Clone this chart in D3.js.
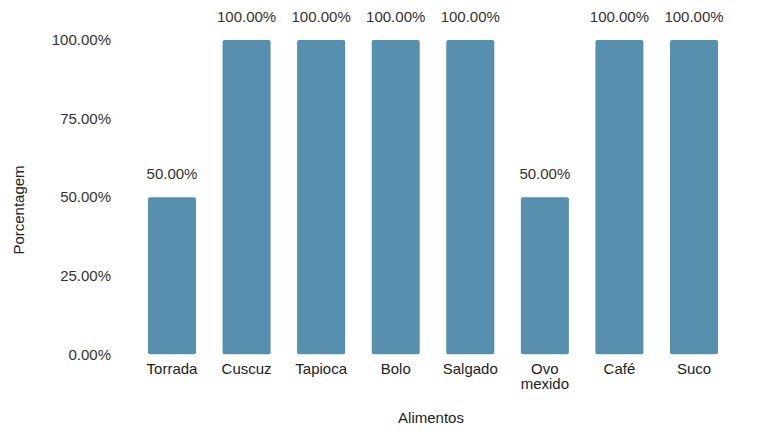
<!DOCTYPE html>
<html>
<head>
<meta charset="utf-8">
<script src="https://cdn.jsdelivr.net/npm/d3@7"></script>
<style>
  html, body { margin: 0; padding: 0; background: #fff; }
  svg { display: block; font-family: "Liberation Sans", Arial, sans-serif; }
</style>
</head>
<body>
<svg id="chart" width="758" height="443"></svg>
<script>
const categories = ["Torrada", "Cuscuz", "Tapioca", "Bolo", "Salgado", "Ovo mexido", "Café", "Suco"];
const values = [50, 100, 100, 100, 100, 50, 100, 100];
const yTicks = [0, 25, 50, 75, 100];
const xTitle = "Alimentos";
const yTitle = "Porcentagem";

const svg = d3.select("#chart");
const fmt = v => v.toFixed(2) + "%";
const FS = 15;

const x = d3.scaleBand().domain(categories).range([134.7, 731.3]).paddingInner(0.356).paddingOuter(0.178);
const y = d3.scaleLinear().domain([0, 100]).range([354.3, 40]);

// y axis labels
const yAxis = d3.axisLeft(y).tickValues(yTicks).tickFormat(fmt).tickSize(0).tickPadding(0);
const yg = svg.append("g").attr("transform", "translate(111,0)").call(yAxis);
yg.select(".domain").remove();
yg.selectAll("text").attr("font-size", FS).attr("fill", "#333").attr("font-family", "Liberation Sans, Arial, sans-serif");

// bars
const data = categories.map((c, i) => ({ c, v: values[i] }));
svg.append("g").selectAll("rect").data(data).join("rect")
  .attr("x", d => x(d.c))
  .attr("y", d => y(d.v))
  .attr("width", x.bandwidth())
  .attr("height", d => y(0) - y(d.v))
  .attr("rx", 2).attr("ry", 2)
  .attr("fill", "#5790ae");

// value labels
svg.append("g").selectAll("text").data(data).join("text")
  .attr("x", d => x(d.c) + x.bandwidth() / 2)
  .attr("y", d => y(d.v) - 18)
  .attr("text-anchor", "middle")
  .attr("font-size", FS)
  .attr("fill", "#333")
  .text(d => fmt(d.v));

// x axis labels
const xAxis = d3.axisBottom(x).tickSize(0).tickPadding(0);
const xg = svg.append("g").attr("transform", `translate(0,${y(0)})`).call(xAxis);
xg.select(".domain").remove();
xg.selectAll("text").each(function(d) {
  const t = d3.select(this);
  t.text(null).attr("font-size", FS).attr("fill", "#222").attr("font-family", "Liberation Sans, Arial, sans-serif").attr("y", 0).attr("dy", null);
  const words = d.split(" ");
  words.forEach((w, i) => {
    t.append("tspan").attr("x", 0).attr("y", 20 + i * 15).text(w);
  });
});

// axis titles
svg.append("text")
  .attr("x", 431).attr("y", 423)
  .attr("text-anchor", "middle")
  .attr("font-size", FS).attr("fill", "#222")
  .text(xTitle);

svg.append("text")
  .attr("transform", "translate(24,210) rotate(-90)")
  .attr("text-anchor", "middle")
  .attr("font-size", FS).attr("fill", "#222")
  .text(yTitle);
</script>
</body>
</html>
